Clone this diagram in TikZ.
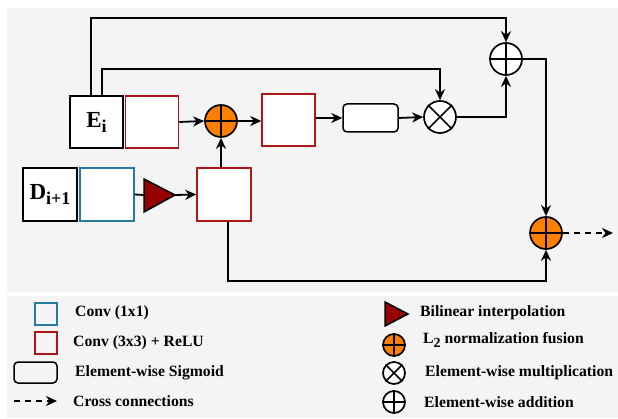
\documentclass[tikz,border=0pt]{standalone}
\usepackage{fontspec}
\setmainfont{Liberation Serif}
\usetikzlibrary{arrows.meta,shapes.geometric}
\definecolor{bgray}{RGB}{244,244,244}
\definecolor{cred}{RGB}{172,22,22}
\definecolor{cblue}{RGB}{38,122,160}
\definecolor{tred}{RGB}{150,0,0}
\definecolor{corange}{RGB}{255,128,0}
\tikzset{
  conn/.style={line width=1.8pt,-{Stealth[length=11pt,width=10pt,inset=3.5pt]}},
  plain/.style={line width=1.8pt},
  box/.style={draw,line width=1.5pt,fill=white,minimum width=53pt,minimum height=52pt,inner sep=0pt},
  redbox/.style={box,draw=cred},
  bluebox/.style={box,draw=cblue},
  lbl/.style={box,draw=black,font=\bfseries\fontsize{23}{23}\selectfont},
  sigbox/.style={draw,line width=1.5pt,fill=white,rounded corners=4pt,minimum width=55pt,minimum height=28pt,inner sep=0pt},
  opc/.style={circle,draw,line width=1.7pt,minimum size=32pt,inner sep=0pt},
  lopc/.style={circle,draw,line width=1.7pt,minimum size=22pt,inner sep=0pt},
  ltext/.style={anchor=west,inner sep=0pt,font=\bfseries\fontsize{15.7}{18}\selectfont},
}
\newcommand{\pluscross}[1]{\draw[line width=1.7pt] (#1.north)--(#1.south) (#1.west)--(#1.east);}
\newcommand{\timescross}[1]{\draw[line width=1.7pt] (#1.north east)--(#1.south west) (#1.north west)--(#1.south east);}
\begin{document}
\begin{tikzpicture}[x=1pt,y=-1pt]
\useasboundingbox (0,0) rectangle (618,419);
\fill[bgray] (7,8) rectangle (618,292);
\fill[bgray] (7,296) rectangle (618,418);

% main nodes
\node[lbl] (E) at (96.5,122) {E\raisebox{-5pt}{\fontsize{18}{18}\selectfont i}};
\node[redbox] (c1) at (152,122) {};
\node[opc,fill=corange] (o1) at (221,121) {};
\node[redbox] (c2) at (288.5,120) {};
\node[sigbox] (sig) at (370.5,118) {};
\node[opc,fill=white] (mul) at (440,117) {};
\node[opc,fill=white] (add) at (506,59) {};
\node[opc,fill=corange] (o2) at (546,233) {};
\node[lbl,minimum width=54pt,minimum height=53pt] (D) at (50,194.5) {D\raisebox{-5pt}{\fontsize{18}{18}\selectfont i+1}};
\node[bluebox,minimum width=54pt,minimum height=53pt] (b1) at (107,194.5) {};
\node[redbox,minimum width=54pt,minimum height=53pt] (c3) at (224,194.5) {};
\coordinate (triL) at (144,195);
\coordinate (triT) at (175,195);
\filldraw[fill=tred,draw=black,line width=1.5pt] (144,179) -- (175,195) -- (144,212) -- cycle;

\pluscross{o1}
\pluscross{o2}
\pluscross{add}
\timescross{mul}

% connectors
\draw[conn] (c1.east) -- (o1.west);
\draw[conn] (o1.east) -- (c2.west |- o1.east);
\draw[conn] (c3.north -| o1.south) -- (o1.south);
\draw[plain] (b1.east) -- (triL);
\draw[conn] (triT) -- (c3.west);
\draw[conn] (sig.west -| c2.east) -- (sig.west);
\draw[conn] (sig.east) -- (mul.west);
\draw[conn] (mul.east) -| (add.south);
\coordinate (eA) at (91,0);
\coordinate (eB) at (102,0);
\draw[conn] (E.north -| eA) |- (0,18 -| add.north) -- (add.north);
\draw[conn] (E.north -| eB) -- (102,69) -| (mul.north);
\draw[conn] (add.east) -| (o2.north);
\draw[conn] (c3.south -| 228,0) -- (228,281) -| (o2.south);
\coordinate (out) at (613,233);
\draw[conn,dashed,dash pattern=on 6pt off 5pt] (o2.east) -- (out);

% legend
\draw[cblue,line width=1.5pt] (35,303) rectangle (57,325);
\draw[cred,line width=1.5pt] (35,332) rectangle (57,354);
\draw[line width=1.5pt,rounded corners=4pt] (14,362) rectangle (57,383);
\coordinate (la) at (14,401);
\coordinate (lb) at (57,401);
\draw[conn,dashed,dash pattern=on 6pt off 5pt] (la) -- (lb);
\node[ltext] (t1) at (75,313) {Conv (1x1)};
\node[ltext] (t2) at (73,343) {Conv (3x3) + ReLU};
\node[ltext] (t3) at (75,373) {Element-wise Sigmoid};
\node[ltext] (t4) at (73,401) {Cross connections};

\filldraw[fill=tred,draw=black,line width=1.5pt] (385,302) -- (408,314) -- (385,326) -- cycle;
\node[lopc,fill=corange] (l1) at (394,345) {};
\node[lopc,fill=white] (l2) at (394,373) {};
\node[lopc,fill=white] (l3) at (394,402) {};
\pluscross{l1}
\timescross{l2}
\pluscross{l3}
\node[ltext] (t5) at (420,313) {Bilinear interpolation};
\node[ltext] (t6) at (423,340) {L\raisebox{-4.5pt}{\fontsize{14}{14}\selectfont 2} normalization fusion};
\node[ltext] (t7) at (425,373) {Element-wise multiplication};
\node[ltext] (t8) at (424,402) {Element-wise addition};
\end{tikzpicture}
\end{document}
